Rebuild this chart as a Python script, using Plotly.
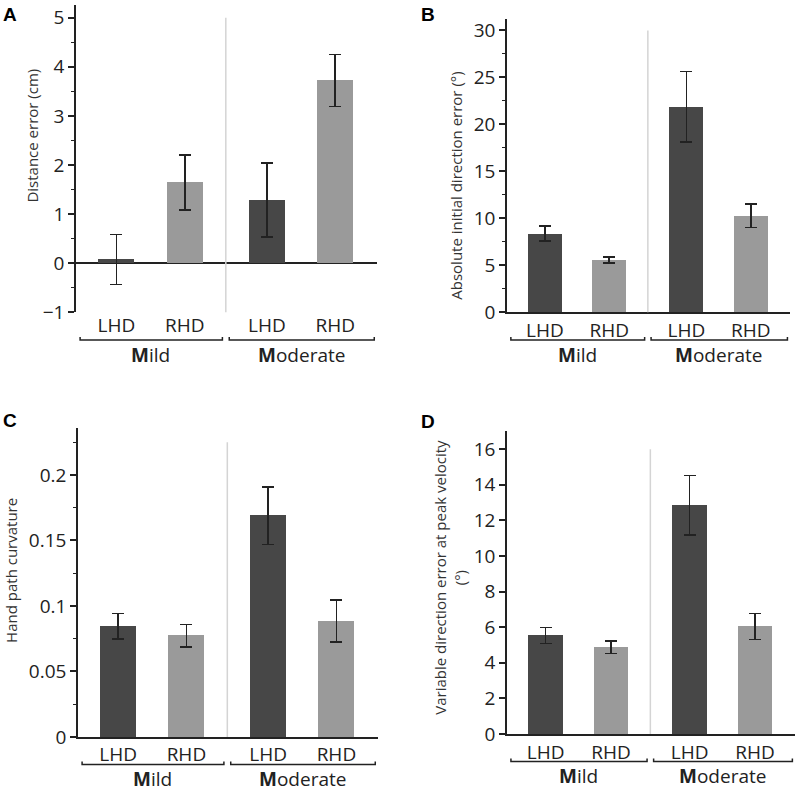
import plotly.graph_objects as go

# data (means and +/- error)
categories = ["LHD", "RHD"]
groups = ["Mild", "Moderate"]

distance_mean = [0.08, 1.65, 1.29, 3.72]
distance_err = [0.51, 0.56, 0.75, 0.53]

init_dir_mean = [8.4, 5.6, 21.9, 10.3]
init_dir_err = [0.77, 0.31, 3.75, 1.25]

curv_mean = [0.0845, 0.0773, 0.169, 0.0885]
curv_err = [0.0097, 0.0085, 0.022, 0.016]

var_dir_mean = [5.53, 4.88, 12.85, 6.03]
var_dir_err = [0.45, 0.35, 1.67, 0.73]

W, H = 800, 803
DARK, LIGHT, INK = "#474747", "#9a9a9a", "#222222"
FONT = "Open Sans"

GAP = 2.2  # offset between the two groups, in category units
x_pos = [g * GAP + c for g in range(len(groups)) for c in range(len(categories))]
x_lab = [categories[c] for g in range(len(groups)) for c in range(len(categories))]
colors = [DARK if c == 0 else LIGHT for g in range(len(groups)) for c in range(len(categories))]
x_range = [-0.59, 3.81]


def py(px):  # pixel row -> paper y
    return 1 - px / H


panels = [
    dict(letter="A", mean=distance_mean, err=distance_err, title="Distance error (cm)",
         xpx=(76, 377), ypx=(4.5, 317), yr=[-1, 5.25], dtick=1, minor=0.5, sep_top=5,
         tx=32, ty=137, lx=10, ly=14, zero=True),
    dict(letter="B", mean=init_dir_mean, err=init_dir_err, title="Absolute initial direction error (°)",
         xpx=(507, 790), ypx=(18, 317), yr=[0, 31.25], dtick=5, minor=2.5, sep_top=30,
         tx=456, ty=188, lx=428, ly=14, zero=False),
    dict(letter="C", mean=curv_mean, err=curv_err, title="Hand path curvature",
         xpx=(78, 378), ypx=(435, 749), yr=[0, 0.2355], dtick=0.05, minor=0.025, sep_top=0.225,
         tx=11, ty=580, lx=10, ly=427, zero=False),
    dict(letter="D", mean=var_dir_mean, err=var_dir_err,
         title="Variable direction error at peak velocity<br>(°)",
         xpx=(507, 795), ypx=(438, 746), yr=[0, 17.0], dtick=2, minor=None, sep_top=16,
         tx=450, ty=587, lx=428, ly=428, zero=False),
]

fig = go.Figure()
shapes, annotations = [], []

for i, p in enumerate(panels):
    n = "" if i == 0 else str(i + 1)
    xa, ya = "x" + n, "y" + n
    fig.add_trace(go.Bar(
        x=x_pos, y=p["mean"], width=0.53, marker=dict(color=colors, line_width=0),
        error_y=dict(type="data", array=p["err"], color=INK, thickness=1.6, width=6),
        xaxis=xa, yaxis=ya, showlegend=False,
    ))

    xd = [p["xpx"][0] / W, p["xpx"][1] / W]
    yd = [py(p["ypx"][1]), py(p["ypx"][0])]
    yaxis = dict(
        domain=yd, range=p["yr"], anchor=xa, dtick=p["dtick"], tick0=0,
        showline=True, linecolor=INK, linewidth=1.5, showgrid=False,
        ticks="outside", ticklen=6, tickwidth=1.5, tickcolor=INK,
        tickfont=dict(family=FONT, size=19, color=INK),
        zeroline=p["zero"], zerolinecolor=INK, zerolinewidth=1.5,
    )
    if p["minor"]:
        yaxis["minor"] = dict(dtick=p["minor"], ticks="outside", ticklen=3, tickwidth=1.2,
                              tickcolor=INK, showgrid=False)
    xaxis = dict(
        domain=xd, range=x_range, anchor=ya, showgrid=False, zeroline=False,
        showline=not p["zero"], linecolor=INK, linewidth=1.5,
        tickvals=x_pos, ticktext=x_lab, ticks="",
        tickfont=dict(family=FONT, size=19, color=INK),
    )
    fig.update_layout(**{"xaxis" + n: xaxis, "yaxis" + n: yaxis})

    # light separator between the two severity groups
    sep = (x_pos[1] + x_pos[2]) / 2
    shapes.append(dict(type="line", xref=xa, yref=ya, x0=sep, x1=sep,
                       y0=p["yr"][0], y1=p["sep_top"], line=dict(color="#d4d4d4", width=1.5)))

    # brackets and group labels under the category labels
    by = py(p["ypx"][1] + 28)
    for g, name in enumerate(groups):
        x0 = g * GAP - 0.53 if g == 0 else sep + 0.05
        x1 = sep - 0.05 if g == 0 else x_range[1] - 0.04
        up = 3 / H
        shapes.append(dict(type="path", xref=xa, yref="paper",
                           path=f"M {x0},{by + up} L {x0},{by} L {x1},{by} L {x1},{by + up}",
                           line=dict(color=INK, width=1.5)))
        mid = (x_pos[2 * g] + x_pos[2 * g + 1]) / 2
        annotations.append(dict(xref=xa, yref="paper", x=mid, y=py(p["ypx"][1] + 43),
                                xanchor="center", yanchor="middle",
                                text="<b>M</b>" + name[1:],
                                showarrow=False, font=dict(family=FONT, size=19, color=INK)))

    annotations.append(dict(xref="paper", yref="paper", x=p["tx"] / W, y=py(p["ty"]),
                            xanchor="center", yanchor="middle",
                            text=p["title"], textangle=-90, showarrow=False,
                            font=dict(family=FONT, size=15, color="#333333")))
    annotations.append(dict(xref="paper", yref="paper", x=p["lx"] / W, y=py(p["ly"]),
                            xanchor="center", yanchor="middle",
                            text="<b>" + p["letter"] + "</b>", showarrow=False,
                            font=dict(family="Liberation Sans", size=19, color="#000")))

fig.update_layout(
    width=W, height=H, margin=dict(l=0, r=0, t=0, b=0),
    paper_bgcolor="white", plot_bgcolor="white",
    shapes=shapes, annotations=annotations, bargap=0,
)

page_css = (
    "document.documentElement.style.overflow='hidden';"
    "document.body.style.margin='0';"
    "document.body.style.overflow='hidden';"
)
fig.write_html("out.html", post_script=page_css,
               config=dict(displayModeBar=False, responsive=False))
